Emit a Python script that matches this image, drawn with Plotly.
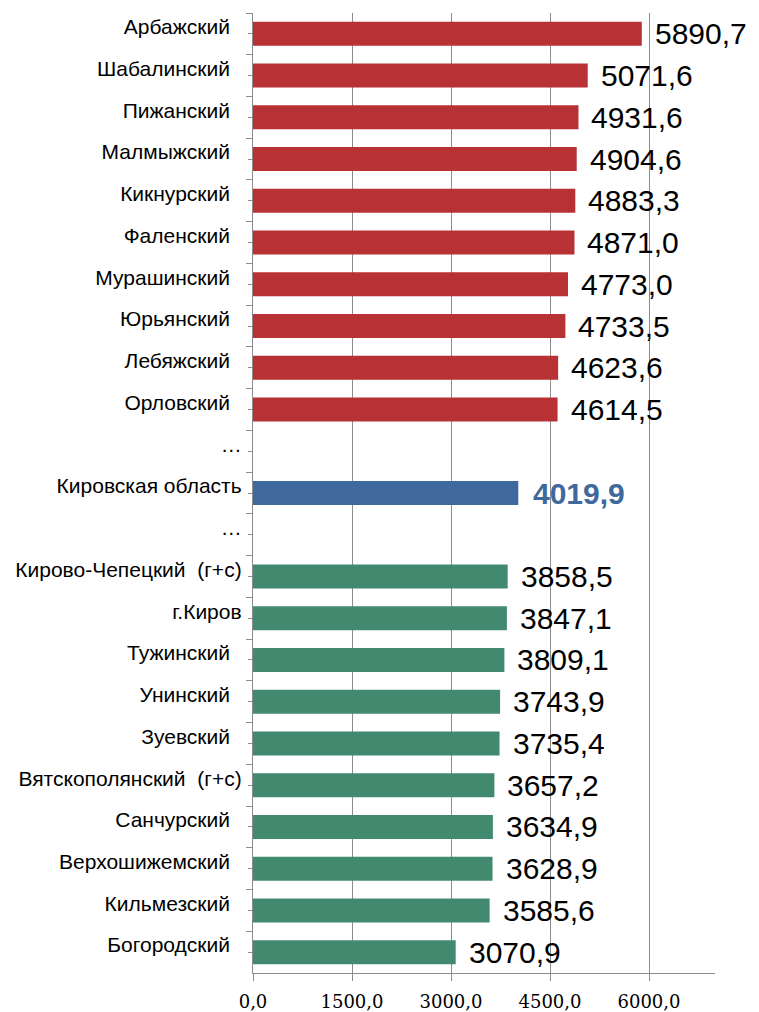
import plotly.graph_objects as go

# ---- data ----
labels = [
    "Арбажский  ", "Шабалинский  ", "Пижанский  ", "Малмыжский  ", "Кикнурский  ",
    "Фаленский  ", "Мурашинский  ", "Юрьянский  ", "Лебяжский  ", "Орловский  ",
    "…", "Кировская область", "…",
    "Кирово-Чепецкий  (г+с)", "г.Киров", "Тужинский  ", "Унинский  ", "Зуевский  ",
    "Вятскополянский  (г+с)", "Санчурский  ", "Верхошижемский  ", "Кильмезский  ", "Богородский  ",
]
values = [
    5890.7, 5071.6, 4931.6, 4904.6, 4883.3, 4871.0, 4773.0, 4733.5, 4623.6, 4614.5,
    None, 4019.9, None,
    3858.5, 3847.1, 3809.1, 3743.9, 3735.4, 3657.2, 3634.9, 3628.9, 3585.6, 3070.9,
]
groups = ["top"] * 10 + ["gap", "region", "gap"] + ["bottom"] * 10
x_ticks = [0, 1500, 3000, 4500, 6000]

# ---- styles ----
group_color = {"top": "#B83134", "region": "#3F699C", "bottom": "#428A6F", "gap": "#FFFFFF"}
axis_color = "#8C8C8C"

# unique category keys (the two "…" rows share the same text)
keys = []
for lab in labels:
    k = lab.replace(" ", "\u00a0")
    while k in keys:
        k = "\u200b" + k
    keys.append(k)

bar_colors = [group_color[g] for g in groups]
n = len(keys)

fig = go.Figure()
fig.add_trace(go.Bar(
    x=values, y=keys, orientation="h",
    marker=dict(color=bar_colors, line=dict(width=0)),
    hoverinfo="skip", showlegend=False,
))
# invisible helper trace so the overlay axis carries the centre tick marks
fig.add_trace(go.Scatter(
    x=[0] * n, y=keys, yaxis="y2", mode="markers",
    marker=dict(opacity=0), hoverinfo="skip", showlegend=False,
))

def fmt(v):
    return f"{v:.1f}".replace(".", ",")

for k, v, g in zip(keys, values, groups):
    if v is None:
        continue
    if g == "region":
        font = dict(family="Liberation Sans, Arial", size=30, color="#3F699C", weight="bold")
        xs = 13
    else:
        font = dict(family="Liberation Sans, Arial", size=30, color="black")
        xs = 11
    fig.add_annotation(
        x=v, y=k, xref="x", yref="y", text=fmt(v), showarrow=False,
        xanchor="left", yanchor="middle", xshift=xs, yshift=0, font=font,
    )

yrange = [n - 0.5, -0.5]
fig.update_layout(
    width=759, height=1012,
    margin=dict(l=253, r=44, t=13, b=39, autoexpand=False),
    paper_bgcolor="white", plot_bgcolor="white",
    separators=", ",
    bargap=0.425,
    showlegend=False,
    xaxis=dict(
        range=[0, 7000], tickmode="array", tickvals=x_ticks, tickformat=".1f",
        showgrid=True, gridcolor=axis_color, gridwidth=1.3,
        showline=True, linecolor=axis_color, linewidth=1.3,
        ticks="outside", ticklen=7, tickcolor=axis_color, tickwidth=1.3,
        zeroline=False, automargin=False,
        tickfont=dict(family="DejaVu Serif", size=18, color="black"),
        ticklabelstandoff=5,
    ),
    yaxis=dict(
        type="category", categoryorder="array", categoryarray=keys, range=yrange,
        tickson="boundaries", ticks="outside", ticklen=6, tickcolor=axis_color, tickwidth=1.3,
        showline=True, linecolor=axis_color, linewidth=1.3, showgrid=False, zeroline=False,
        automargin=False,
        tickfont=dict(family="Liberation Sans, Arial", size=21, color="black"),
        ticklabelshift=7, ticklabelstandoff=6,
    ),
    yaxis2=dict(
        type="category", categoryorder="array", categoryarray=keys, range=yrange,
        overlaying="y", side="left", anchor="x", automargin=False,
        ticks="outside", ticklen=4, tickcolor=axis_color, tickwidth=1.3,
        showticklabels=False, showline=False, showgrid=False, zeroline=False,
    ),
)

fig.write_html(
    "out.html",
    config={"displayModeBar": False},
    post_script="document.body.style.margin='0';",
)
